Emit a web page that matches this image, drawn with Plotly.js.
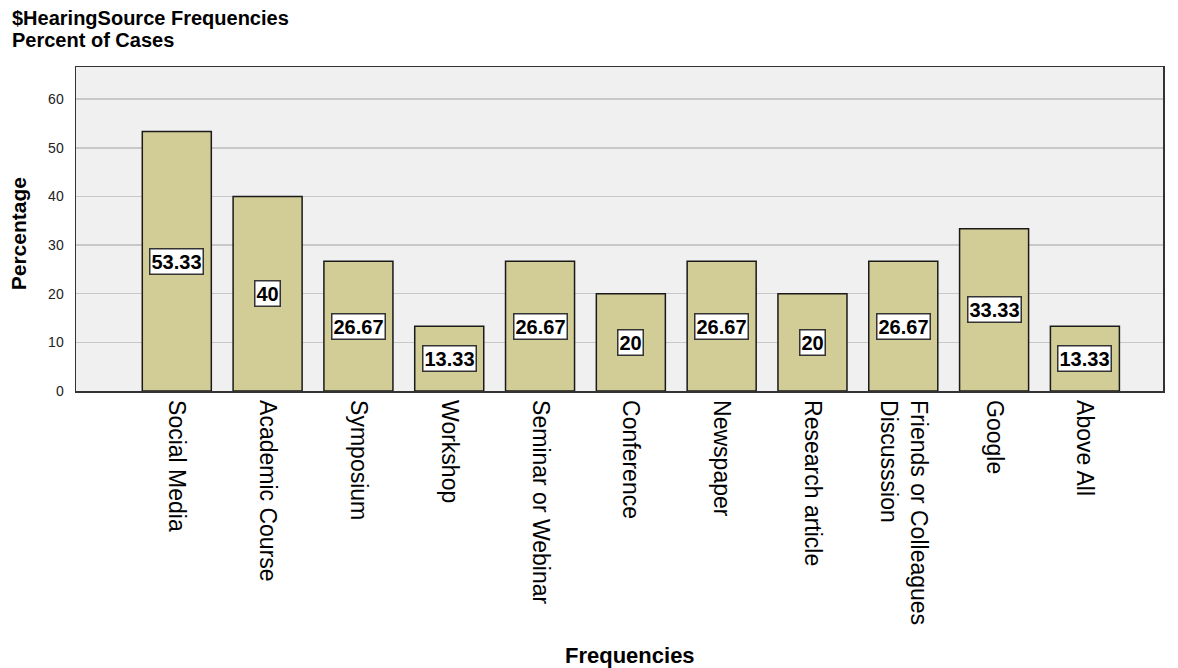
<!DOCTYPE html>
<html>
<head>
<meta charset="utf-8">
<script src="https://cdn.plot.ly/plotly-3.0.1.min.js"></script>
<style>html,body{margin:0;padding:0;background:#fff;}#chart{width:1178px;height:668px;}</style>
</head>
<body>
<div id="chart"></div>
<script>
const categories = ["Social Media", "Academic Course", "Symposium", "Workshop", "Seminar or Webinar", "Conference", "Newspaper", "Research article", "Friends or Colleagues<br>Discusssion", "Google", "Above All"];
const percentValues = [53.33, 40, 26.67, 13.33, 26.67, 20, 26.67, 20, 26.67, 33.33, 13.33];
const valueLabels = ["53.33", "40", "26.67", "13.33", "26.67", "20", "26.67", "20", "26.67", "33.33", "13.33"];
const yTicks = [0, 10, 20, 30, 40, 50, 60];
const titleLines = ["$HearingSource Frequencies", "Percent of Cases"];

const FONT = 'Liberation Sans, Arial, sans-serif';

const trace = {
  type: 'bar',
  x: categories.map((c, i) => i),
  y: percentValues,
  width: 0.76,
  marker: {color: '#d2cd96', line: {color: '#1a1a1a', width: 1.5}},
  hoverinfo: 'none'
};

const annotations = percentValues.map((v, i) => ({
  x: i, y: v / 2, xref: 'x', yref: 'y',
  text: valueLabels[i], showarrow: false,
  font: {family: 'Liberation Sans Narrow, Arial Narrow, ' + FONT, size: 20, color: '#000', weight: 'bold'},
  bgcolor: '#ffffff', bordercolor: '#333333', borderwidth: 1.5, borderpad: 1
}));
// chart titles (two lines, top-left)
annotations.push({
  xref: 'paper', yref: 'paper', x: -0.0607, xanchor: 'left', y: 1.1512, yanchor: 'middle',
  text: '<b>' + titleLines[0] + '</b>', showarrow: false,
  font: {family: FONT, size: 20, color: '#000'}
});
annotations.push({
  xref: 'paper', yref: 'paper', x: -0.0607, xanchor: 'left', y: 1.0833, yanchor: 'middle',
  text: '<b>' + titleLines[1] + '</b>', showarrow: false,
  font: {family: FONT, size: 20, color: '#000'}
});
// axis titles
annotations.push({
  xref: 'paper', yref: 'paper', x: 0.51, y: -0.815, yanchor: 'middle',
  text: '<b>Frequencies</b>', showarrow: false,
  font: {family: FONT, size: 22, color: '#000'}
});
annotations.push({
  xref: 'paper', yref: 'paper', x: -0.053, xanchor: 'center', y: 0.485, yanchor: 'middle',
  text: '<b>Percentage</b>', showarrow: false, textangle: -90,
  font: {family: FONT, size: 21, color: '#000'}
});

const layout = {
  width: 1178, height: 668,
  margin: {l: 76, r: 15, t: 67, b: 277},
  paper_bgcolor: '#ffffff', plot_bgcolor: '#f0f0f0',
  showlegend: false,
  xaxis: {
    range: [-1.11, 10.86],
    tickmode: 'array', tickvals: categories.map((c, i) => i), ticktext: categories,
    tickangle: 90, ticks: '', ticklabelstandoff: 3,
    tickfont: {family: FONT, size: 23, color: '#000'},
    showline: true, linecolor: '#333333', linewidth: 1.5, mirror: true,
    showgrid: false, zeroline: false, fixedrange: true
  },
  yaxis: {
    range: [0, 66.6],
    tickmode: 'array', tickvals: yTicks, ticktext: yTicks.map(String),
    ticks: '', ticklabelstandoff: 8,
    tickfont: {family: FONT, size: 14, color: '#222'},
    showline: true, linecolor: '#333333', linewidth: 1.5, mirror: true,
    showgrid: true, gridcolor: '#c8c8c8', gridwidth: 1.5,
    zeroline: false,
    fixedrange: true
  },
  annotations: annotations
};

Plotly.newPlot('chart', [trace], layout, {displayModeBar: false, staticPlot: true});
</script>
</body>
</html>
